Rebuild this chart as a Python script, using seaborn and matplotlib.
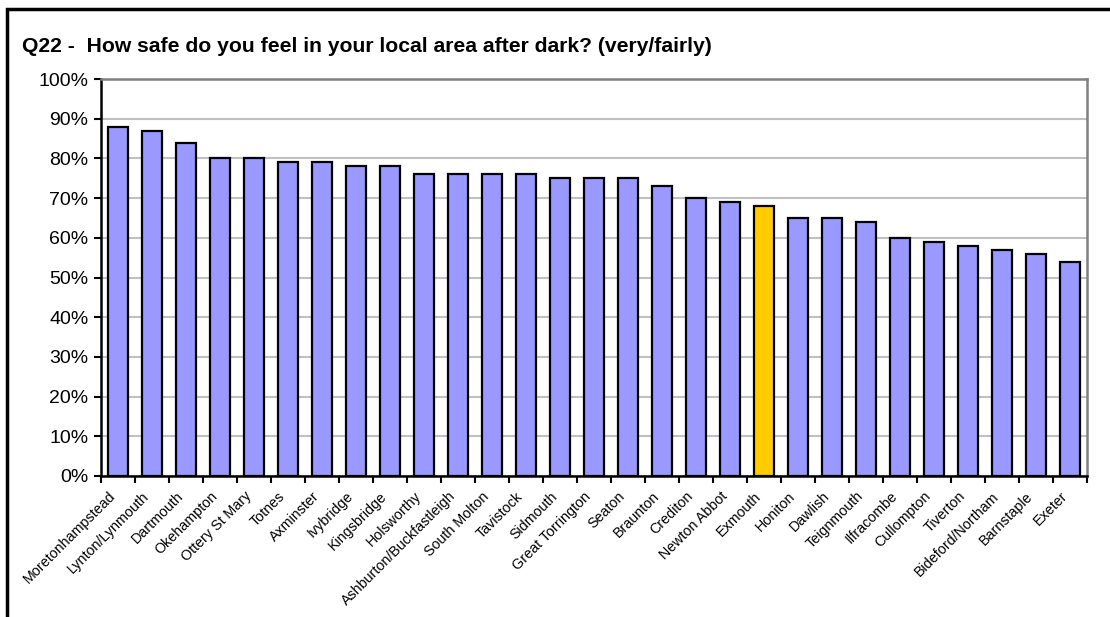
import matplotlib
matplotlib.use("Agg")
import matplotlib.pyplot as plt
import matplotlib.transforms as mtransforms
import seaborn as sns
import pandas as pd
from matplotlib.patches import Rectangle
from matplotlib.ticker import MultipleLocator, PercentFormatter

towns = ['Moretonhampstead', 'Lynton/Lynmouth', 'Dartmouth', 'Okehampton', 'Ottery St Mary',
         'Totnes', 'Axminster', 'Ivybridge', 'Kingsbridge', 'Holsworthy',
         'Ashburton/Buckfastleigh', 'South Molton', 'Tavistock', 'Sidmouth', 'Great Torrington',
         'Seaton', 'Braunton', 'Crediton', 'Newton Abbot', 'Exmouth',
         'Honiton', 'Dawlish', 'Teignmouth', 'Ilfracombe', 'Cullompton',
         'Tiverton', 'Bideford/Northam', 'Barnstaple', 'Exeter']
safe_pct = [88, 87, 84, 80, 80, 79, 79, 78, 78, 76,
            76, 76, 76, 75, 75, 75, 73, 70, 69, 68,
            65, 65, 64, 60, 59, 58, 57, 56, 54]
highlight = 'Exmouth'

df = pd.DataFrame({'town': towns, 'pct': safe_pct})
palette = {t: ('#FFCC00' if t == highlight else '#9999FF') for t in towns}

sns.set_theme(style="white")
plt.rcParams['font.family'] = ['Liberation Sans', 'DejaVu Sans']

fig = plt.figure(figsize=(11.1, 6.17), dpi=100)
ax = fig.add_axes([101/1110, 1 - 476/617, (1087-101)/1110, (476-79)/617])

sns.barplot(data=df, x='town', y='pct', hue='town', palette=palette, legend=False,
            width=0.6, saturation=1, edgecolor='black', linewidth=1.6, ax=ax, zorder=3)

ax.set_ylim(0, 100)
ax.set_xlim(-0.5, len(towns) - 0.5)
ax.yaxis.set_major_locator(MultipleLocator(10))
ax.yaxis.set_major_formatter(PercentFormatter(decimals=0))
ax.yaxis.grid(True, color='#C0C0C0', linewidth=1.5, zorder=0)
ax.set_axisbelow(True)
ax.set_xlabel('')
ax.set_ylabel('')

ax.tick_params(axis='y', labelsize=14, length=5, width=1.5, direction='out', left=True,
               color='black', labelcolor='black', pad=4)
ax.set_xticks(range(len(towns)))
ax.set_xticklabels(towns, rotation=45, ha='right', va='center', rotation_mode='anchor', fontsize=10.3)
ax.tick_params(axis='x', which='major', length=0, pad=13, labelcolor='black')
ax.set_xticks([i - 0.5 for i in range(len(towns) + 1)], minor=True)
ax.tick_params(axis='x', which='minor', length=5, width=1.5, direction='out', bottom=True, color='black')

# nudge the slanted labels a little left, as in the original
shift = mtransforms.ScaledTranslation(-5/100, 0, fig.dpi_scale_trans)
for lbl in ax.get_xticklabels():
    lbl.set_transform(lbl.get_transform() + shift)

for side in ['left', 'bottom']:
    ax.spines[side].set_color('black')
    ax.spines[side].set_linewidth(1.8)
for side in ['top', 'right']:
    ax.spines[side].set_color('#808080')
    ax.spines[side].set_linewidth(1.8)

fig.text(22/1110, 1 - 46/617, 'Q22 -  How safe do you feel in your local area after dark? (very/fairly)',
         fontsize=15.2, fontweight='bold', ha='left', va='center', color='black')

fig.patches.append(Rectangle((7/1110, -0.05), 1.1, 1 - 9/617 + 0.05, transform=fig.transFigure,
                             fill=False, edgecolor='black', linewidth=2.5))

fig.savefig('out.png', dpi=100)
